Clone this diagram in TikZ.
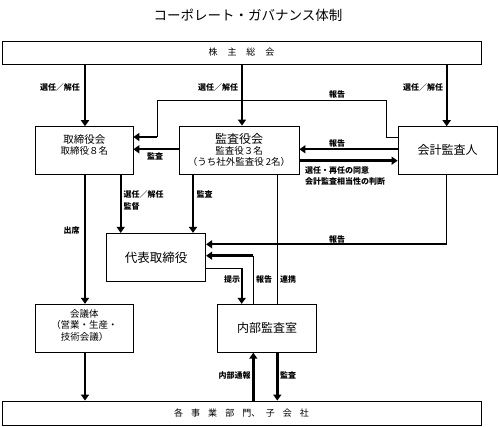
\documentclass[tikz,border=0pt]{standalone}
\usepackage{fontspec}
\setmainfont{Noto Sans CJK JP}
\usetikzlibrary{arrows.meta}
\tikzset{
  box/.style={draw, line width=0.8pt, inner sep=0pt, anchor=center},
  thin/.style={line width=0.8pt},
  arr/.style={line width=2.4pt, -{Triangle[width=8pt,length=6pt]}},
  lab/.style={inner sep=0pt, font=\bfseries\fontsize{8}{9}\selectfont},
}
\begin{document}
\begin{tikzpicture}[x=1pt,y=-1pt]
\useasboundingbox (0,0) rectangle (499,427);
\node[inner sep=0pt, font=\fontsize{13.5}{15}\selectfont] (title) at (248,15) {コーポレート・ガバナンス体制};

\node[box, minimum width=479pt, minimum height=23pt, font=\fontsize{9}{10}\selectfont] (top) at (241.5,52.5) {株\hspace{1.1em}主\hspace{1.1em}総\hspace{1.1em}会};
\node[box, minimum width=479pt, minimum height=24pt, font=\fontsize{9}{10}\selectfont] (bottom) at (241.5,413) {各\hspace{0.9em}事\hspace{0.9em}業\hspace{0.9em}部\hspace{0.9em}門、\hspace{0.6em}子\hspace{0.9em}会\hspace{0.9em}社};

\node[box, minimum width=97.3pt, minimum height=47.3pt] (tori) at (84.3,150.3)
  {\raisebox{4pt}[\height][\depth]{\begin{tabular}{@{}c@{}}{\fontsize{10.5}{12}\selectfont 取締役会}\\[-1pt]{\fontsize{9.5}{12}\selectfont 取締役８名}\end{tabular}}};
\node[box, minimum width=120pt, minimum height=48pt, align=center] (kansa) at (239,150)
  {{\fontsize{12}{13}\selectfont 監査役会}\\[-1pt]{\fontsize{9.5}{12}\selectfont 監査役３名}\\[-1.5pt]{\fontsize{9.5}{12}\selectfont （うち社外監査役 2名）}};
\node[box, minimum width=99pt, minimum height=47.3pt, font=\fontsize{12}{14}\selectfont] (kaikei) at (447.5,150.3) {会計監査人};
\node[box, minimum width=99pt, minimum height=48.4pt, font=\fontsize{12.5}{14}\selectfont] (daihyo) at (156.2,257.5) {代表取締役};
\node[box, minimum width=97.6pt, minimum height=48pt, font=\fontsize{9.5}{11.5}\selectfont] (kaigi) at (84.5,328.3)
  {\raisebox{2pt}[\height][\depth]{\begin{tabular}{@{}c@{}}会議体\\（営業・生産・\\技術会議）\end{tabular}}};
\node[box, minimum width=99.4pt, minimum height=48pt, font=\fontsize{12}{14}\selectfont] (naibu) at (267,328.3) {内部監査室};

% x and y helper coordinates
\coordinate (x85) at (85,0);
\coordinate (x242) at (242,0);
\coordinate (x447) at (446.7,0);
\coordinate (x121) at (120.7,0);
\coordinate (x193) at (193,0);
\coordinate (x277) at (277.3,0);
\coordinate (x253) at (253.3,0);
\coordinate (x242b) at (241.7,0);
\coordinate (x386) at (386,0);
\coordinate (x157) at (157,0);
\coordinate (y137) at (0,137);
\coordinate (y101) at (0,100.7);
\coordinate (y149) at (0,149.3);
\coordinate (y161) at (0,160.7);
\coordinate (y244) at (0,244.3);
\coordinate (y256) at (0,255.7);
\coordinate (y268) at (0,268.3);

% shareholders -> boards
\draw[arr] (top.south -| x85) -- (tori.north -| x85);
\draw[arr] (top.south -| x242) -- (kansa.north -| x242);
\draw[arr] (top.south -| x447) -- (kaikei.north -| x447);
\node[lab] (l1) at (60,87) {選任／解任};
\node[lab] (l2) at (218,87) {選任／解任};
\node[lab] (l3) at (423,87) {選任／解任};

% auditor -> board (report, routed over)
\draw[thin] (kaikei.west |- y137) -- (x386 |- y137) -- (x386 |- y101) -- (x157 |- y101) -- (x157 |- y137);
\draw[arr] (x157 |- y137) -- (tori.east |- y137);
\node[lab] (l4) at (337,94.5) {報告};

% kansa <-> tori, kaikei
\draw[arr] (kansa.west |- y149) -- (tori.east |- y149);
\node[lab] (l5) at (155,156) {監査};
\draw[arr] (kaikei.west |- y149) -- (kansa.east |- y149);
\node[lab] (l6) at (337,143) {報告};
\draw[arr] (kansa.east |- y161) -- (kaikei.west |- y161);
\node[lab, anchor=west] (l7) at (305,170.5) {選任・再任の同意};
\node[lab, anchor=west] (l8) at (305,181) {会計監査相当性の判断};

% down to daihyo
\draw[arr] (tori.south -| x121) -- (daihyo.north -| x121);
\node[lab, anchor=west] (l9) at (123.5,194) {選任／解任};
\node[lab, anchor=west] (l10) at (123.5,206.7) {監督};
\draw[arr] (kansa.south -| x193) -- (daihyo.north -| x193);
\node[lab, anchor=west] (l11) at (196.5,194) {監査};

% tori -> kaigi -> bottom
\draw[arr] (tori.south -| x85) -- (kaigi.north -| x85);
\node[lab] (l12) at (71.7,230.7) {出席};
\draw[arr] (kaigi.south -| x85) -- (bottom.north -| x85);

% kaikei -> daihyo report
\draw[thin] (kaikei.south -| x447) -- (x447 |- y244);
\draw[arr] (x447 |- y244) -- (daihyo.east |- y244);
\node[lab] (l13) at (337,239) {報告};

% kansa -- naibu (renkei)
\draw[thin] (kansa.south -| x277) -- (naibu.north -| x277);
\node[lab] (l14) at (288,279.3) {連携};

% naibu -> daihyo report
\draw[thin] (naibu.north -| x253) -- (x253 |- y256);
\draw[arr] (x253 |- y256) -- (daihyo.east |- y256);
\node[lab] (l15) at (264,279.3) {報告};

% daihyo -> naibu (teiji)
\draw[thin] (daihyo.east |- y268) -- (x242b |- y268);
\draw[arr] (x242b |- y268) -- (naibu.north -| x242b);
\node[lab] (l16) at (232,279.3) {提示};

% naibu <-> bottom
\draw[arr] (bottom.north -| x253) -- (naibu.south -| x253);
\node[lab] (l17) at (234.7,375) {内部通報};
\draw[arr] (naibu.south -| x277) -- (bottom.north -| x277);
\node[lab] (l18) at (288,375) {監査};
\end{tikzpicture}
\end{document}
